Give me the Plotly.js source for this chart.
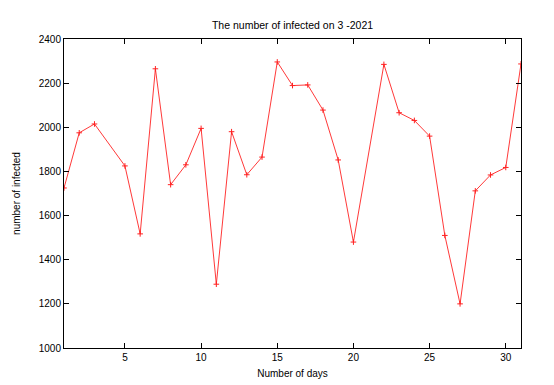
<!DOCTYPE html>
<html>
<head>
<meta charset="utf-8">
<script src="https://cdn.plot.ly/plotly-3.0.1.min.js"></script>
<style>html,body{margin:0;padding:0;background:#fff;}#chart{width:554px;height:385px;}</style>
</head>
<body>
<div id="chart"></div>
<script>
const days = [1, 2, 3, 5, 6, 7, 8, 9, 10, 11, 12, 13, 14, 15, 16, 17, 18, 19, 20, 22, 23, 24, 25, 26, 27, 28, 29, 30, 31];
const infected = [1725, 1975, 2015, 1825, 1517, 2265, 1740, 1830, 1995, 1289, 1980, 1785, 1865, 2296, 2189, 2192, 2078, 1852, 1480, 2285, 2066, 2031, 1960, 1510, 1200, 1712, 1784, 1818, 2287];
const xTicks = [5, 10, 15, 20, 25, 30];
const yTicks = [1000, 1200, 1400, 1600, 1800, 2000, 2200, 2400];

const font = {family: 'Liberation Sans, Arial, sans-serif', size: 10, color: '#000'};

Plotly.newPlot('chart', [{
  x: days,
  y: infected,
  type: 'scatter',
  mode: 'lines+markers',
  line: {color: '#f22', width: 0.9},
  marker: {symbol: 'cross-thin-open', size: 4, color: '#f22', line: {color: '#f22', width: 1}},
  showlegend: false
}], {
  width: 554,
  height: 385,
  paper_bgcolor: '#fff',
  plot_bgcolor: '#fff',
  font: font,
  margin: {l: 64, r: 33, t: 39, b: 37, pad: 0},
  title: {text: 'The number of infected on 3 -2021', font: {family: font.family, size: 10.5, color: '#000'}, x: 0.528, xanchor: 'center', y: 0.935, yanchor: 'middle'},
  xaxis: {
    range: [1, 31],
    tickvals: xTicks,
    ticktext: xTicks.map(String),
    ticks: 'inside', ticklen: 5, tickcolor: '#000', tickwidth: 1,
    showline: true, linecolor: '#000', linewidth: 1, mirror: 'ticks',
    showgrid: false, zeroline: false,
    tickfont: font,
    title: {text: 'Number of days', font: font, standoff: 7}
  },
  yaxis: {
    range: [1000, 2400],
    tickvals: yTicks,
    ticktext: yTicks.map(String),
    ticks: 'inside', ticklen: 5, tickcolor: '#000', tickwidth: 1,
    showline: true, linecolor: '#000', linewidth: 1, mirror: 'ticks',
    showgrid: false, zeroline: false,
    tickfont: font,
    title: {text: 'number of infected', font: font, standoff: 16}
  }
}, {displayModeBar: false, staticPlot: true});
</script>
</body>
</html>
